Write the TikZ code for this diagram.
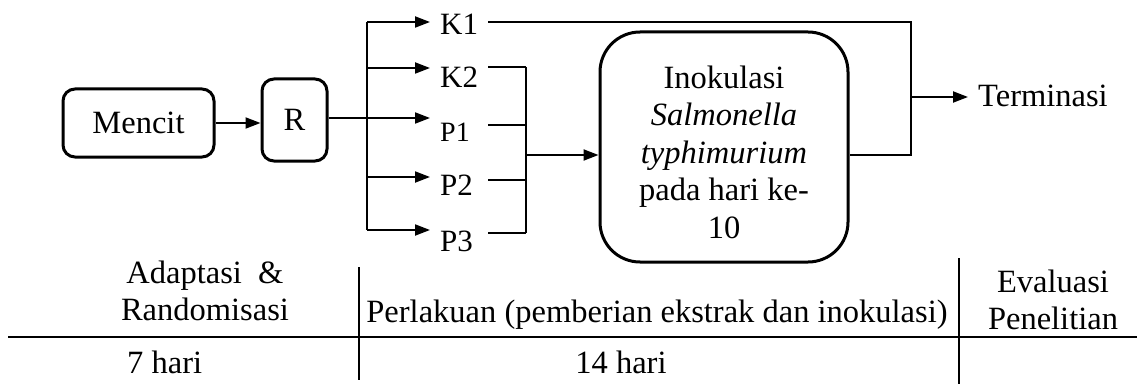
\documentclass[tikz,border=0pt]{standalone}
\usepackage{fontspec}
\setmainfont{Liberation Serif}
\usetikzlibrary{arrows.meta}
\begin{document}
\begin{tikzpicture}[x=1pt,y=-1pt,
  every node/.style={font=\fontsize{32.5}{37.5}\selectfont, inner sep=0pt},
  box/.style={draw, line width=3pt, rounded corners=12pt},
  arr/.style={line width=2pt, -{Triangle[length=15pt,width=11pt]}},
  thinline/.style={line width=1.3pt},
  lab/.style={anchor=base west, inner xsep=10pt, inner ysep=2pt, text width=38pt, align=left},
  tline/.style={line width=2.2pt},
  vline/.style={line width=1.5pt}]
\useasboundingbox (0,0) rectangle (1137,385);
% boxes
\node[box, minimum width=151pt, minimum height=68pt] (mencit) at (138.5,123) {Mencit};
\node[box, minimum width=65pt, minimum height=82pt] (R) at (294.5,120) {R};
\node[box, rounded corners=40pt, minimum width=248pt, minimum height=230pt] (big) at (724,147) {};
\node[align=center] (bigtxt) at (724,152) {Inokulasi\\\textit{Salmonella}\\\textit{typhimurium}\\pada hari ke-\\10};
% group labels
\node[lab, font=\fontsize{31}{36}\selectfont] (k1) at (430,35) {K1};
\node[lab, font=\fontsize{31}{36}\selectfont] (k2) at (430,88) {K2};
\node[lab, font=\fontsize{28}{32}\selectfont] (p1) at (430,142) {P1};
\node[lab, font=\fontsize{31}{36}\selectfont] (p2) at (430,195) {P2};
\node[lab, font=\fontsize{31}{36}\selectfont] (p3) at (430,251) {P3};
\node[anchor=base west, inner xsep=10pt] (term) at (968,107) {Terminasi};
% coordinates
\coordinate (b1) at (367,22);
\coordinate (b2) at (367,68);
\coordinate (b3) at (367,118);
\coordinate (b4) at (367,177);
\coordinate (b5) at (367,230);
\coordinate (l2) at (526,67);
\coordinate (l3) at (526,125);
\coordinate (l4) at (526,180);
\coordinate (l5) at (526,233);
\coordinate (m) at (526,155);
\coordinate (c1) at (911,22);
\coordinate (c2) at (911,155);
\coordinate (ct) at (911,97);
% connectors
\draw[arr] (mencit.east) -- (R.west |- mencit.east);
\draw[thinline] (R.east |- b3) -- (b3);
\draw[thinline] (b1) -- (b5);
\foreach \b/\k in {b1/k1,b2/k2,b3/p1,b4/p2,b5/p3}
  \draw[arr] (\b) -- (\b -| \k.west);
\draw[thinline] (k1.east |- b1) -- (c1) -- (c2) -- (big.east |- c2);
\draw[thinline] (k2.east |- l2) -- (l2);
\draw[thinline] (p1.east |- l3) -- (l3);
\draw[thinline] (p2.east |- l4) -- (l4);
\draw[thinline] (p3.east |- l5) -- (l5);
\draw[thinline] (l2) -- (l5);
\draw[arr] (m) -- (m -| big.west);
\draw[arr] (ct) -- (ct -| term.west);
% timeline table
\coordinate (h1) at (8,337);
\coordinate (h2) at (1137,337);
\coordinate (v1a) at (359,267);
\coordinate (v1b) at (359,380);
\coordinate (v2a) at (959,258);
\coordinate (v2b) at (959,384);
\draw[tline] (h1) -- (h2);
\draw[vline] (v1a) -- (v1b);
\draw[vline] (v2a) -- (v2b);
\node[align=center] (adapt) at (205,291) {Adaptasi\ \ \&\\Randomisasi};
\node[anchor=base] (perl) at (657,322) {Perlakuan (pemberian ekstrak dan inokulasi)};
\node[align=center] (eval) at (1053,300) {Evaluasi\\Penelitian};
\node[anchor=base west] (d7) at (127,373) {7 hari};
\node[anchor=base] (d14) at (621,373) {14 hari};
\end{tikzpicture}
\end{document}
